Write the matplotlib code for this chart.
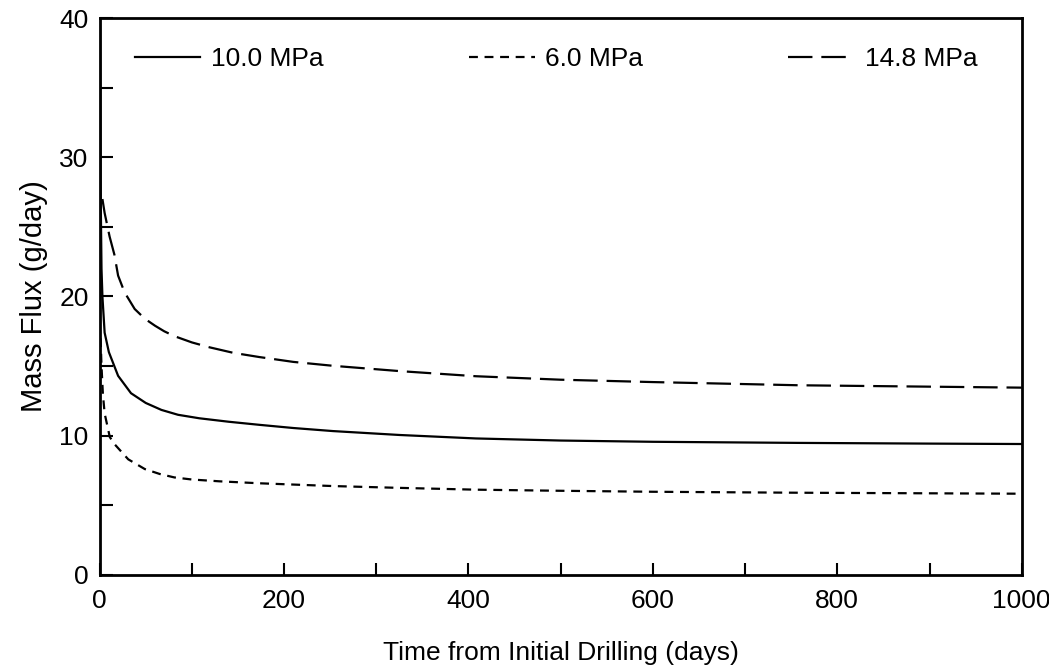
import matplotlib
matplotlib.use('Agg')
import matplotlib.pyplot as plt
from matplotlib.ticker import MultipleLocator

plt.rcParams['font.family'] = ['Liberation Sans', 'DejaVu Sans']

# days since drilling
days_10 = [0.4, 1, 2, 3, 5.4, 10, 20, 34, 50, 67, 85, 108, 140, 173, 210,
           253, 325, 408, 500, 600, 759, 900, 1000]
flux_10 = [40, 28, 22, 20, 17.4, 16.0, 14.3, 13.05, 12.35, 11.85, 11.5,
           11.25, 11.0, 10.78, 10.55, 10.33, 10.05, 9.8, 9.65, 9.56, 9.48,
           9.43, 9.4]

days_6 = [1, 2, 3.5, 5.4, 11, 16, 31, 49, 65, 81, 100, 130, 173, 253, 325,
          408, 500, 600, 759, 1000]
flux_6 = [17, 15, 13, 11.6, 9.9, 9.4, 8.3, 7.6, 7.25, 7.0, 6.85, 6.72, 6.58,
          6.38, 6.25, 6.12, 6.04, 5.97, 5.9, 5.83]

days_148 = [3, 5.4, 10.8, 16, 20, 27, 38, 49, 60, 70, 81, 100, 119, 145, 173,
            210, 253, 325, 408, 500, 600, 759, 1000]
flux_148 = [27, 26, 24.3, 23, 21.5, 20.3, 19.1, 18.4, 17.9, 17.5, 17.15,
            16.7, 16.35, 15.95, 15.65, 15.3, 15.02, 14.64, 14.27, 14.02,
            13.85, 13.62, 13.45]

fig = plt.figure(figsize=(10.49, 6.70), dpi=100)
ax = fig.add_axes([0.095, 0.142, 0.879, 0.831])

lw = 1.6
ax.plot(days_10, flux_10, color='black', lw=lw, label='10.0 MPa')
ax.plot(days_6, flux_6, color='black', lw=lw, dashes=(4, 3), label='6.0 MPa')
ax.plot(days_148, flux_148, color='black', lw=lw, dashes=(11, 4), label='14.8 MPa')

ax.set_xlim(0, 1000)
ax.set_ylim(0, 40)
ax.xaxis.set_major_locator(MultipleLocator(200))
ax.xaxis.set_minor_locator(MultipleLocator(100))
ax.yaxis.set_major_locator(MultipleLocator(10))
ax.yaxis.set_minor_locator(MultipleLocator(5))
ax.tick_params(which='both', direction='in', length=9, width=1.5,
               labelsize=19, top=False, right=False)
ax.tick_params(axis='x', pad=10)
ax.tick_params(axis='y', pad=8)
for s in ax.spines.values():
    s.set_linewidth(2)

ax.set_xlabel('Time from Initial Drilling (days)', fontsize=19, labelpad=20)
ax.set_ylabel('Mass Flux (g/day)', fontsize=21, labelpad=8)

ax.legend(loc='upper center', ncol=3, frameon=False, fontsize=19,
          handlelength=2.5, handletextpad=0.4, columnspacing=5.5,
          bbox_to_anchor=(0.495, 0.99))

fig.savefig('out.png', dpi=100)
